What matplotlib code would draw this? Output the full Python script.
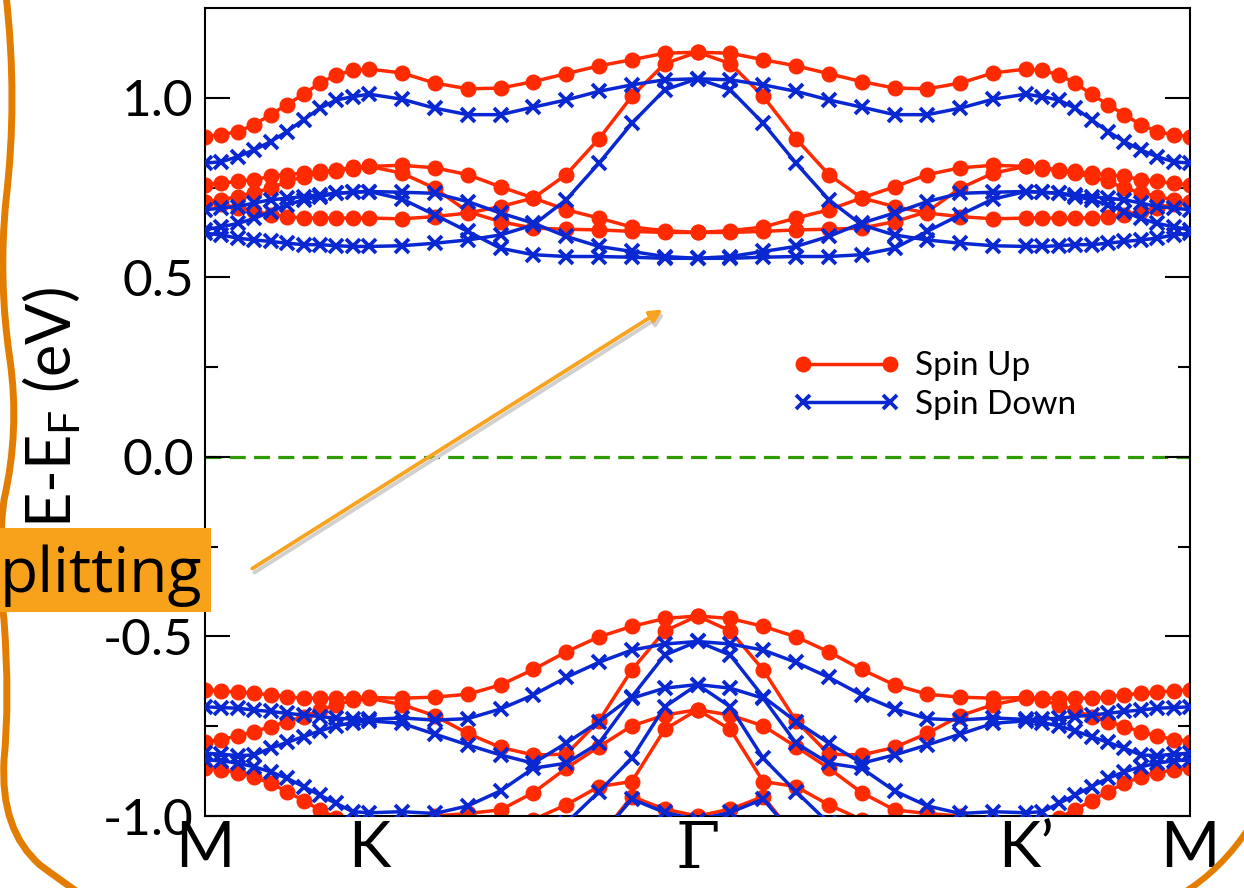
import numpy as np
import matplotlib
matplotlib.use('Agg')
import matplotlib.pyplot as plt
from matplotlib.lines import Line2D
from matplotlib.patches import Rectangle, FancyArrowPatch, PathPatch
from matplotlib.path import Path

plt.rcParams['font.family'] = ['Lato', 'DejaVu Sans']
plt.rcParams['axes.unicode_minus'] = False
plt.rcParams['mathtext.fontset'] = 'custom'
plt.rcParams['mathtext.rm'] = 'Lato'

# k-path M -> K -> Gamma (M-K = 1, K-Gamma = 2); the path Gamma -> K' -> M is the mirror image
k_half = [0.0, 0.1, 0.2, 0.3, 0.4, 0.5, 0.6, 0.7, 0.8, 0.9, 1.0,
          1.2, 1.4, 1.6, 1.8, 2.0, 2.2, 2.4, 2.6, 2.8, 3.0]
k_ticks = [0, 1, 3, 5, 6]
k_labels = ['M', 'K', '\u0393', 'K\u2019', 'M']

# spin up bands (eV), M -> Gamma
up_c1 = [0.892, 0.897, 0.906, 0.925, 0.953, 0.981, 1.010, 1.041, 1.064, 1.076, 1.080,
         1.069, 1.041, 1.025, 1.027, 1.045, 1.067, 1.089, 1.106, 1.124, 1.127]
up_c2 = [0.758, 0.762, 0.767, 0.772, 0.781, 0.786, 0.790, 0.795, 0.799, 0.806, 0.809,
         0.812, 0.805, 0.786, 0.752, 0.721, 0.688, 0.665, 0.640, 0.630, 0.625]
up_c3 = [0.711, 0.716, 0.725, 0.736, 0.748, 0.767, 0.780, 0.790, 0.797, 0.803, 0.809,
         0.790, 0.748, 0.683, 0.655, 0.637, 0.634, 0.632, 0.628, 0.625, 0.625]
up_c4 = [0.711, 0.703, 0.694, 0.684, 0.674, 0.669, 0.665, 0.665, 0.665, 0.665, 0.665,
         0.663, 0.669, 0.679, 0.697, 0.721, 0.786, 0.886, 1.004, 1.095, 1.127]
up_v1 = [-0.649, -0.651, -0.656, -0.658, -0.663, -0.668, -0.672, -0.672, -0.672, -0.671, -0.670,
         -0.672, -0.669, -0.661, -0.635, -0.592, -0.543, -0.501, -0.472, -0.450, -0.443]
up_v2 = [-0.793, -0.787, -0.777, -0.765, -0.751, -0.737, -0.723, -0.706, -0.690, -0.678, -0.672,
         -0.690, -0.721, -0.770, -0.809, -0.830, -0.828, -0.735, -0.593, -0.485, -0.443]
up_v3 = [-0.867, -0.872, -0.879, -0.891, -0.909, -0.932, -0.957, -0.983, -1.005, -1.02, -1.03,
         -1.02, -1.0, -0.993, -0.983, -0.935, -0.867, -0.807, -0.749, -0.719, -0.704]
up_v4 = [-1.2, -1.2, -1.2, -1.2, -1.2, -1.2, -1.2, -1.2, -1.2, -1.2, -1.2,
         -1.2, -1.2, -1.2, -1.1, -1.01, -0.969, -0.918, -0.904, -0.759, -0.704]
up_v5 = [-1.2, -1.2, -1.2, -1.2, -1.2, -1.2, -1.2, -1.2, -1.2, -1.2, -1.2,
         -1.2, -1.2, -1.2, -1.2, -1.2, -1.15, -1.06, -0.946, -0.981, -1.0]

# spin down bands (eV), M -> Gamma
dn_c1 = [0.818, 0.822, 0.836, 0.855, 0.878, 0.906, 0.939, 0.971, 0.994, 1.003, 1.010,
         0.996, 0.971, 0.953, 0.953, 0.974, 0.994, 1.018, 1.036, 1.050, 1.053]
dn_c2 = [0.688, 0.693, 0.697, 0.707, 0.716, 0.720, 0.725, 0.730, 0.734, 0.737, 0.739,
         0.737, 0.734, 0.711, 0.679, 0.651, 0.614, 0.586, 0.572, 0.558, 0.553]
dn_c3 = [0.632, 0.641, 0.650, 0.664, 0.683, 0.702, 0.716, 0.725, 0.734, 0.737, 0.739,
         0.718, 0.674, 0.628, 0.581, 0.563, 0.558, 0.558, 0.556, 0.553, 0.553]
dn_c4 = [0.623, 0.618, 0.609, 0.604, 0.600, 0.595, 0.591, 0.591, 0.588, 0.586, 0.586,
         0.588, 0.595, 0.604, 0.618, 0.646, 0.716, 0.818, 0.929, 1.022, 1.053]
dn_v1 = [-0.696, -0.698, -0.700, -0.705, -0.709, -0.714, -0.719, -0.723, -0.728, -0.730, -0.731,
         -0.727, -0.733, -0.729, -0.702, -0.663, -0.614, -0.572, -0.538, -0.521, -0.514]
dn_v2 = [-0.825, -0.828, -0.832, -0.830, -0.811, -0.795, -0.779, -0.763, -0.749, -0.740, -0.735,
         -0.742, -0.772, -0.802, -0.830, -0.853, -0.797, -0.737, -0.668, -0.552, -0.514]
dn_v3 = [-0.844, -0.846, -0.853, -0.863, -0.877, -0.895, -0.918, -0.942, -0.965, -0.988, -0.991,
         -0.988, -0.993, -0.972, -0.930, -0.867, -0.853, -0.797, -0.672, -0.644, -0.634]
dn_v4 = [-1.2, -1.2, -1.2, -1.2, -1.2, -1.2, -1.2, -1.2, -1.2, -1.2, -1.2,
         -1.2, -1.2, -1.2, -1.2, -1.15, -1.02, -0.932, -0.839, -0.696, -0.634]
dn_v5 = [-1.2, -1.2, -1.2, -1.2, -1.2, -1.2, -1.2, -1.2, -1.2, -1.2, -1.2,
         -1.2, -1.2, -1.2, -1.2, -1.2, -1.15, -1.06, -0.953, -0.990, -1.01]

up_bands = [up_c1, up_c2, up_c3, up_c4, up_v1, up_v2, up_v3, up_v4, up_v5]
dn_bands = [dn_c1, dn_c2, dn_c3, dn_c4, dn_v1, dn_v2, dn_v3, dn_v4, dn_v5]


def full_path(half):
    # mirror M-K-Gamma onto Gamma-K'-M
    return list(half) + list(half[-2::-1])


k_full = list(k_half) + [6 - v for v in k_half[-2::-1]]

RED = '#ff2a00'
BLUE = '#0a28d2'

fig = plt.figure(figsize=(12.44, 8.88), dpi=100)
ax = fig.add_axes([205/1244, 72/888, 985/1244, 808/888])

for b in up_bands:
    ax.plot(k_full, full_path(b), color=RED, lw=2.5, marker='o', ms=10.5,
            mec=RED, mfc=RED, zorder=2)
for b in dn_bands:
    ax.plot(k_full, full_path(b), color=BLUE, lw=2.5, marker='x', ms=9.5,
            mew=2.7, zorder=3)

ax.axhline(0.0, color='#2e9c00', lw=2.3, dashes=(5, 2.6), zorder=1)

ax.set_xlim(0, 6)
ax.set_ylim(-1.0, 1.25)
ax.set_xticks(k_ticks)
ax.set_xticklabels(k_labels, fontsize=46)
ax.set_yticks([-1.0, -0.5, 0.0, 0.5, 1.0])
ax.set_yticklabels(['-1.0', '-0.5', '0.0', '0.5', '1.0'], fontsize=37)
ax.set_yticks([-0.75, -0.25, 0.25, 0.75], minor=True)
ax.tick_params(axis='y', which='major', direction='in', length=18, width=1.5,
               left=True, right=True, pad=8)
ax.tick_params(axis='y', which='minor', direction='in', length=9, width=1.5,
               left=True, right=True)
ax.tick_params(axis='x', length=0, pad=3)
for lab in ax.get_xticklabels():
    if lab.get_text() == '\u0393':
        lab.set_fontfamily('DejaVu Serif')
        lab.set_fontweight('normal')
for sp in ax.spines.values():
    sp.set_linewidth(1.5)

ax.set_ylabel(r'E-E$_\mathrm{F}$ (eV)', fontsize=44)
ax.yaxis.set_label_coords(-0.124, 0.505)

handles = [Line2D([], [], color=RED, lw=2.5, marker='o', ms=10.5),
           Line2D([], [], color=BLUE, lw=2.5, marker='x', ms=9.5, mew=2.7)]
ax.legend(handles, ['Spin Up', 'Spin Down'], loc='upper left',
          bbox_to_anchor=(0.597, 0.575), frameon=False, fontsize=24,
          handlelength=3.2, handletextpad=0.45, borderpad=0, borderaxespad=0,
          labelspacing=0.25, numpoints=2)

# slide decorations: orange curves, arrow and label box
W, H = 1244, 888


def to_fig(pts):
    return [(p[0] / W, 1 - p[1] / H) for p in pts]


# quadratic bezier: start point, then (control, end) pairs
left_pts = [(6, -5),
            (18, 100), (6, 200),
            (-2, 280), (10, 360),
            (20, 430), (4, 500),
            (-4, 560), (4, 620),
            (10, 700), (4, 760),
            (0, 830), (40, 865),
            (60, 880), (82, 895)]
left_codes = [Path.MOVETO] + [Path.CURVE3] * (len(left_pts) - 1)
fig.add_artist(PathPatch(Path(to_fig(left_pts), left_codes), transform=fig.transFigure,
                         facecolor='none', edgecolor='#e27d00', lw=5, zorder=5))
right_pts = [(1180, 895), (1222, 870), (1250, 826)]
fig.add_artist(PathPatch(Path(to_fig(right_pts), [Path.MOVETO, Path.CURVE3, Path.CURVE3]),
                         transform=fig.transFigure, facecolor='none',
                         edgecolor='#e27d00', lw=4.5, zorder=5))

shadow = FancyArrowPatch((252 / W, 1 - 574 / H), (667 / W, 1 - 312 / H),
                         transform=fig.transFigure, arrowstyle='-|>',
                         mutation_scale=18, color='#d0d0d0', lw=2.8, zorder=5)
fig.add_artist(shadow)
arrow = FancyArrowPatch((250 / W, 1 - 570 / H), (665 / W, 1 - 308 / H),
                        transform=fig.transFigure, arrowstyle='-|>',
                        mutation_scale=18, color='#f6a422', lw=2.8, zorder=6)
fig.add_artist(arrow)

fig.add_artist(Rectangle((0, 1 - 612 / H), 211 / W, 84 / H, transform=fig.transFigure,
                         facecolor='#f8a21c', edgecolor='none', zorder=6))
fig.text(0, 1 - 592 / H, 'plitting', fontsize=45, family=['Open Sans', 'DejaVu Sans'],
         ha='left', va='baseline', color='black', zorder=7)

fig.savefig('out.png', dpi=100)
